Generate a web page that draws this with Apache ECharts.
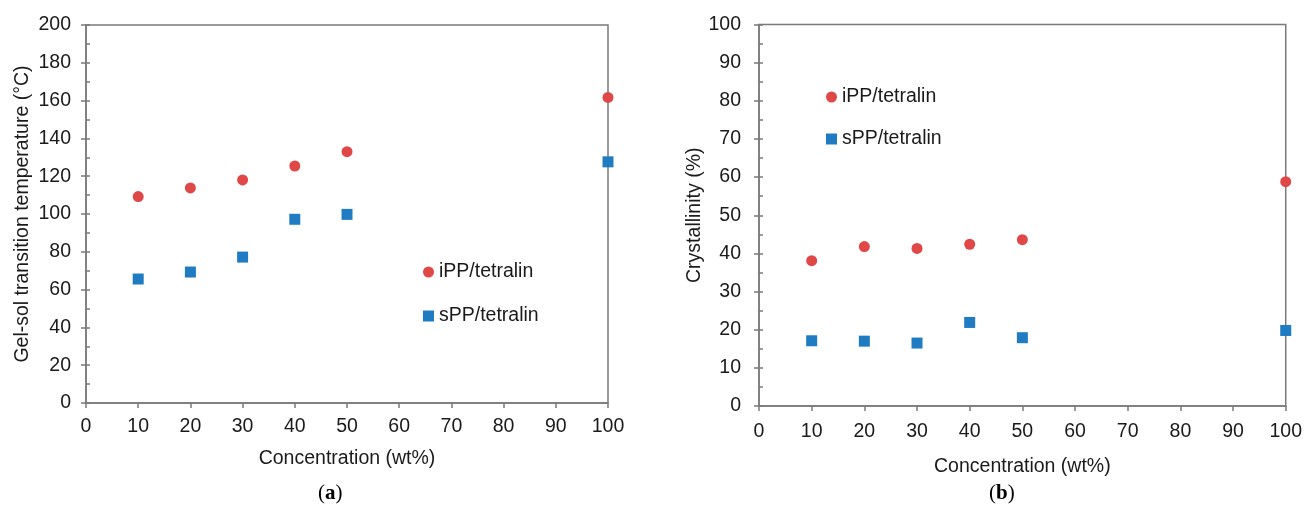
<!DOCTYPE html>
<html>
<head>
<meta charset="utf-8">
<script src="https://cdn.jsdelivr.net/npm/echarts@6/dist/echarts.min.js"></script>
<style>
html,body{margin:0;padding:0;background:#fff;}
#c{width:1305px;height:506px;}
</style>
</head>
<body>
<div id="c"></div>
<script>
// ---- data ----
const xLabels = ['0','10','20','30','40','50','60','70','80','90','100'];
const concentrations = ['10','20','30','40','50','100'];
const gelSolIPP = [109.2, 113.8, 118.0, 125.4, 133.0, 161.7];
const gelSolSPP = [65.6, 69.3, 77.2, 97.2, 99.8, 127.6];
const crystIPP = [38.1, 41.8, 41.3, 42.4, 43.6, 58.8];
const crystSPP = [17.1, 17.0, 16.5, 21.9, 17.9, 19.8];
const nameIPP = 'iPP/tetralin';
const nameSPP = 'sPP/tetralin';

const RED = '#e04848';
const BLUE = '#1f7cc2';
const AX = '#7a7a7a';
const FONT = '"Liberation Sans", Arial, Helvetica, sans-serif';
const TXT = '#1a1a1a';
const FS = 19.5;

function pairs(vals){ return concentrations.map((c,i)=>[c, vals[i]]); }

const grids = [
  {left:86, top:25, width:522, height:378, show:true, borderColor:AX, borderWidth:1.5, backgroundColor:'transparent'},
  {left:759, top:24.5, width:528, height:381.5, show:true, borderColor:AX, borderWidth:1.5, backgroundColor:'transparent'}
];

function xAxisMain(gi, gapName, labelMargin){
  return {
    type:'category', gridIndex:gi, data:xLabels, boundaryGap:false,
    name:'Concentration (wt%)', nameLocation:'middle', nameGap:gapName,
    nameTextStyle:{fontFamily:FONT, fontSize:FS, color:TXT},
    axisLine:{lineStyle:{color:AX, width:1.5}},
    axisTick:{show:true, length:5, lineStyle:{color:AX, width:1.5}},
    axisLabel:{fontFamily:FONT, fontSize:FS, color:TXT, margin:labelMargin, interval:0},
    splitLine:{show:false}
  };
}
function yAxisMain(gi, max, interval, name, gapName, labelMargin){
  return {
    type:'value', gridIndex:gi, min:0, max:max, interval:interval,
    name:name, nameLocation:'middle', nameGap:gapName, nameRotate:90,
    nameTextStyle:{fontFamily:FONT, fontSize:FS, color:TXT},
    axisLine:{show:true, lineStyle:{color:AX, width:1.5}},
    axisTick:{show:true, length:5, lineStyle:{color:AX, width:1.5}},
    axisLabel:{fontFamily:FONT, fontSize:FS, color:TXT, margin:labelMargin},
    splitLine:{show:false}
  };
}
function yAxisMinor(gi, max, interval){
  return {
    type:'value', gridIndex:gi, min:0, max:max, interval:interval, position:'left',
    axisLine:{show:false},
    axisTick:{show:true, inside:true, length:4, lineStyle:{color:AX, width:1.5}},
    axisLabel:{show:false}, splitLine:{show:false}
  };
}

const symSize = 11;
function sc(name, xi, yi, vals, sym, color){
  return {
    name:name, type:'scatter', xAxisIndex:xi, yAxisIndex:yi, data:pairs(vals),
    symbol:sym, symbolSize:symSize, itemStyle:{color:color, opacity:1}, z:5
  };
}

const serif = '"Liberation Serif", "DejaVu Serif", serif';
const option = {
  animation:false,
  backgroundColor:'#fff',
  grid: grids,
  xAxis:[ xAxisMain(0, 46, 14), xAxisMain(1, 51, 16) ],
  yAxis:[
    yAxisMain(0, 200, 20, 'Gel-sol transition temperature (°C)', 53, 15),
    yAxisMain(1, 100, 10, 'Crystallinity (%)', 53, 18),
    yAxisMinor(0, 200, 10),
    yAxisMinor(1, 100, 5)
  ],
  legend:[
    {orient:'vertical', left:418, top:257, itemWidth:11, itemHeight:11, itemGap:24,
     data:[{name:nameIPP, icon:'circle'},{name:nameSPP, icon:'rect'}],
     textStyle:{fontFamily:FONT, fontSize:FS, color:TXT}, selectedMode:false},
    {orient:'vertical', left:821, top:82, itemWidth:11, itemHeight:11, itemGap:22,
     data:[{name:nameIPP, icon:'circle'},{name:nameSPP, icon:'rect'}],
     textStyle:{fontFamily:FONT, fontSize:FS, color:TXT}, selectedMode:false}
  ],
  graphic:[
    {type:'text', left:318, top:483, style:{text:'{p|(}{b|a}{p|)}', rich:{
      p:{fontFamily:serif, fontSize:21, fill:'#000'},
      b:{fontFamily:serif, fontSize:21, fontWeight:'bold', fill:'#000'}}}},
    {type:'text', left:989, top:483, style:{text:'{p|(}{b|b}{p|)}', rich:{
      p:{fontFamily:serif, fontSize:21, fill:'#000'},
      b:{fontFamily:serif, fontSize:21, fontWeight:'bold', fill:'#000'}}}}
  ],
  series:[
    sc(nameIPP, 0, 0, gelSolIPP, 'circle', RED),
    sc(nameSPP, 0, 0, gelSolSPP, 'rect', BLUE),
    sc(nameIPP, 1, 1, crystIPP, 'circle', RED),
    sc(nameSPP, 1, 1, crystSPP, 'rect', BLUE)
  ]
};
const chart = echarts.init(document.getElementById('c'), null, {renderer:'canvas'});
chart.setOption(option);
</script>
</body>
</html>
